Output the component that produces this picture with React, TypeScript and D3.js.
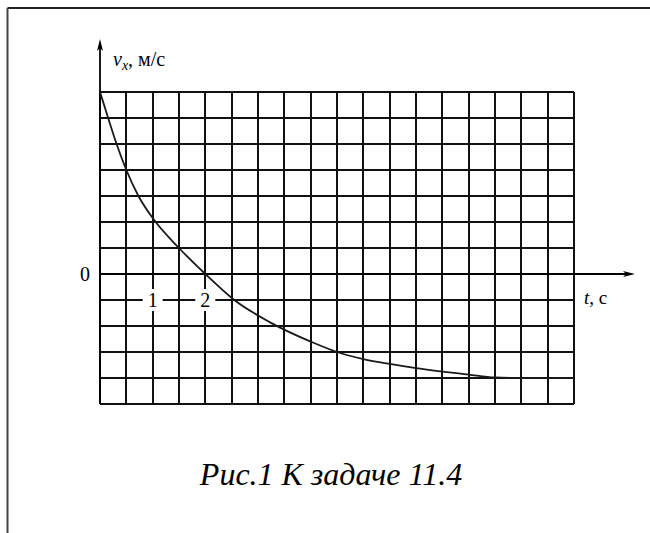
import React from "react";
import * as d3 from "d3";

// Velocity projection v_x (m/s) versus time t (s)
const timeValues = [0, 0.155, 0.315, 0.5, 0.73, 1.0, 1.5, 2.0, 2.55, 3.23, 4.0, 4.5, 5.0, 5.5, 6.0, 7.0, 7.5, 8.0, 9.0];
const velocityValues = [7, 6, 5, 4, 3, 2.15, 1, 0, -1, -1.86, -2.6, -3.0, -3.27, -3.46, -3.62, -3.87, -3.98, -4.0, -4.0];

// Grid extents (one cell = 0.5 s horizontally, 1 m/s vertically)
const tMin = 0;
const tMax = 9;
const tStep = 0.5;
const vMin = -5;
const vMax = 7;
const vStep = 1;

const timeTickValues = [1, 2];
const timeTickLabels = ["1", "2"];
const originLabel = "0";
const xAxisSymbol = "t";
const xAxisUnit = ", с";
const yAxisSymbol = "v";
const yAxisSub = "x";
const yAxisUnit = ", м/с";
const caption = "Рис.1  К задаче 11.4";

export default function App() {
  const W = 650;
  const H = 533;
  const x = d3.scaleLinear().domain([tMin, tMax]).range([100, 574]);
  const y = d3.scaleLinear().domain([vMin, vMax]).range([404, 92]);

  const vLines = d3.range(tMin, tMax + tStep / 2, tStep);
  const hLines = d3.range(vMin, vMax + vStep / 2, vStep);

  const line = d3
    .line<number>()
    .x((_, i) => x(timeValues[i]))
    .y((d) => y(d))
    .curve(d3.curveMonotoneX);

  const serif = "'Liberation Serif', 'Times New Roman', serif";
  const x0 = x(0);
  const y0 = y(0);
  const gridColor = "#111";

  return (
    <svg
      width={W}
      height={H}
      style={{ position: "absolute", left: 0, top: 0, background: "#fff" }}
    >
      <rect x={0} y={0} width={W} height={H} fill="#fff" />
      {/* page frame */}
      <line x1={7.5} y1={8} x2={W} y2={8} stroke="#222" strokeWidth={2} />
      <line x1={7.5} y1={8} x2={7.5} y2={H} stroke="#444" strokeWidth={2} />

      {/* grid */}
      <g stroke={gridColor} strokeWidth={1.8} shapeRendering="crispEdges">
        {vLines.map((t) => (
          <line key={"v" + t} x1={x(t)} x2={x(t)} y1={y(vMax)} y2={y(vMin)} />
        ))}
        {hLines.map((v) => (
          <line key={"h" + v} x1={x(tMin)} x2={x(tMax)} y1={y(v)} y2={y(v)} />
        ))}
      </g>

      {/* axes with arrows */}
      <g stroke="#000" strokeWidth={1.8}>
        <line x1={x0} y1={y(vMin)} x2={x0} y2={44} />
        <line x1={x(tMin)} y1={y0} x2={628} y2={y0} />
      </g>
      <path d={`M${x0},39 L${x0 - 3},51 L${x0},48 L${x0 + 3},51 Z`} fill="#000" />
      <path d={`M635,${y0} L623,${y0 - 3} L626,${y0} L623,${y0 + 3} Z`} fill="#000" />

      {/* velocity curve */}
      <path
        d={line(velocityValues) || ""}
        fill="none"
        stroke="#1a1a1a"
        strokeWidth={1.8}
      />

      {/* time tick labels on the gridline below the axis */}
      {timeTickValues.map((t, i) => (
        <g key={"tl" + t}>
          <rect x={x(t) - 10} y={y(-1) - 11} width={20} height={22} fill="#fff" />
          <text
            x={x(t)}
            y={y(-1) + 7}
            textAnchor="middle"
            fontFamily={serif}
            fontSize={20}
            fill="#000"
          >
            {timeTickLabels[i]}
          </text>
        </g>
      ))}

      <text x={x0 - 10} y={y0 + 7} textAnchor="end" fontFamily={serif} fontSize={20} fill="#000">
        {originLabel}
      </text>

      {/* axis titles */}
      <text x={584} y={304} fontFamily={serif} fontSize={19} fill="#000">
        <tspan fontStyle="italic">{xAxisSymbol}</tspan>
        <tspan>{xAxisUnit}</tspan>
      </text>
      <text x={113} y={66} fontFamily={serif} fontSize={20} fill="#000">
        <tspan fontStyle="italic">{yAxisSymbol}</tspan>
        <tspan fontStyle="italic" fontSize={14} dy={4}>{yAxisSub}</tspan>
        <tspan dy={-4}>{yAxisUnit}</tspan>
      </text>

      {/* caption */}
      <text
        x={331}
        y={485}
        textAnchor="middle"
        fontFamily={serif}
        fontStyle="italic"
        fontSize={32}
        fill="#000"
      >
        {caption}
      </text>
    </svg>
  );
}
